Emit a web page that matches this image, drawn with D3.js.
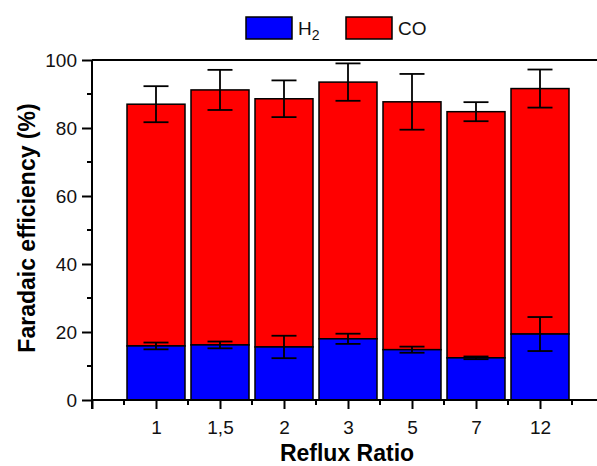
<!DOCTYPE html>
<html>
<head>
<meta charset="utf-8">
<script src="https://cdn.jsdelivr.net/npm/d3@7"></script>
<style>
  body { margin: 0; background: #fff; }
  svg { display: block; font-family: "Liberation Sans", Arial, sans-serif; }
</style>
</head>
<body>
<svg id="chart" width="597" height="466"></svg>
<script>
// reflux ratio categories
const ratios = ["1", "1,5", "2", "3", "5", "7", "12"];
// total faradaic efficiency (H2 + CO) and its error
const totalFE = [87.0, 91.2, 88.6, 93.5, 87.7, 84.8, 91.6];
const totalErr = [5.3, 5.9, 5.4, 5.5, 8.2, 2.8, 5.6];
// H2 faradaic efficiency and its error
const h2FE = [15.9, 16.2, 15.6, 18.0, 14.8, 12.4, 19.4];
const h2Err = [1.0, 1.0, 3.3, 1.5, 0.9, 0.4, 5.0];
const yTicks = [0, 20, 40, 60, 80, 100];

const svg = d3.select("#chart");

// scales: category i sits at x = i + 1, axis runs past the right edge
const x = d3.scaleLinear().domain([0, 8]).range([92, 604]);
const y = d3.scaleLinear().domain([0, 100]).range([400, 60]);
const barW = 58;

const rows = ratios.map((r, i) => ({
  r, pos: i + 1,
  h2: h2FE[i], h2e: h2Err[i],
  tot: totalFE[i], tote: totalErr[i]
}));

// CO part (top of stack)
svg.append("g").selectAll("rect")
  .data(rows)
  .join("rect")
  .attr("x", d => x(d.pos) - barW / 2)
  .attr("width", barW)
  .attr("y", d => y(d.tot))
  .attr("height", d => y(d.h2) - y(d.tot))
  .attr("fill", "#ff0000")
  .attr("stroke", "#000")
  .attr("stroke-width", 1.5);

// H2 part (bottom of stack)
svg.append("g").selectAll("rect")
  .data(rows)
  .join("rect")
  .attr("x", d => x(d.pos) - barW / 2)
  .attr("width", barW)
  .attr("y", d => y(d.h2))
  .attr("height", d => y(0) - y(d.h2))
  .attr("fill", "#0000ff")
  .attr("stroke", "#000")
  .attr("stroke-width", 1.5);

// error bars
function errorBars(val, err) {
  const g = svg.append("g").attr("stroke", "#000").attr("stroke-width", 1.8);
  const cap = 12.5;
  rows.forEach(d => {
    const cx = x(d.pos);
    const lo = y(d[val] - d[err]), hi = y(d[val] + d[err]);
    g.append("line").attr("x1", cx).attr("x2", cx).attr("y1", lo).attr("y2", hi);
    g.append("line").attr("x1", cx - cap).attr("x2", cx + cap).attr("y1", lo).attr("y2", lo);
    g.append("line").attr("x1", cx - cap).attr("x2", cx + cap).attr("y1", hi).attr("y2", hi);
  });
}
errorBars("tot", "tote");
errorBars("h2", "h2e");

// x axis: major ticks at integers, minor ticks at halves
const xAxis = svg.append("g").attr("transform", `translate(0,${y(0)})`);
xAxis.call(d3.axisBottom(x)
    .tickValues(d3.range(0, 9))
    .tickSize(9)
    .tickPadding(12)
    .tickFormat(v => (v >= 1 && v <= ratios.length) ? ratios[v - 1] : ""));
xAxis.append("g").selectAll("line")
  .data(d3.range(0.5, 8, 1))
  .join("line")
  .attr("x1", d => x(d)).attr("x2", d => x(d))
  .attr("y1", 0).attr("y2", 5)
  .attr("stroke", "#000");

// y axis: major every 20, minor every 10
const yAxis = svg.append("g").attr("transform", `translate(${x(0)},0)`);
yAxis.call(d3.axisLeft(y)
    .tickValues(yTicks)
    .tickSize(10)
    .tickPadding(5));
yAxis.append("g").selectAll("line")
  .data([10, 30, 50, 70, 90])
  .join("line")
  .attr("x1", 0).attr("x2", -5)
  .attr("y1", d => y(d)).attr("y2", d => y(d))
  .attr("stroke", "#000");

[xAxis, yAxis].forEach(a => {
  a.select(".domain").attr("stroke", "#000").attr("stroke-width", 2);
  a.selectAll("line").attr("stroke", "#000").attr("stroke-width", 2);
  a.selectAll("text").attr("font-size", 19).attr("fill", "#111")
    .attr("font-family", "Liberation Sans, Arial, sans-serif");
});
xAxis.select(".domain").attr("d", `M${x(0)},0H${x(8)}`);
yAxis.select(".domain").attr("d", `M0,${y(0) + 9}V${y(100)}`);

// top frame line
svg.append("line")
  .attr("x1", x(0)).attr("x2", x(8))
  .attr("y1", y(100)).attr("y2", y(100))
  .attr("stroke", "#000").attr("stroke-width", 2);

// axis titles
svg.append("text")
  .attr("x", 347).attr("y", 461)
  .attr("text-anchor", "middle")
  .attr("font-size", 23).attr("font-weight", "bold")
  .text("Reflux Ratio");

svg.append("text")
  .attr("transform", "translate(35,228) rotate(-90)")
  .attr("text-anchor", "middle")
  .attr("font-size", 23).attr("font-weight", "bold")
  .text("Faradaic efficiency (%)");

// legend
const legend = [
  { name: "H", sub: "2", color: "#0000ff", lx: 246 },
  { name: "CO", sub: "", color: "#ff0000", lx: 346 }
];
const lg = svg.append("g");
legend.forEach(l => {
  lg.append("rect")
    .attr("x", l.lx).attr("y", 17).attr("width", 46).attr("height", 22)
    .attr("fill", l.color).attr("stroke", "#000").attr("stroke-width", 1.5);
  const t = lg.append("text")
    .attr("x", l.lx + 52).attr("y", 35)
    .attr("font-size", 19).attr("fill", "#111")
    .text(l.name);
  if (l.sub) {
    t.append("tspan").attr("dy", 5).attr("font-size", 14).text(l.sub);
  }
});
</script>
</body>
</html>
